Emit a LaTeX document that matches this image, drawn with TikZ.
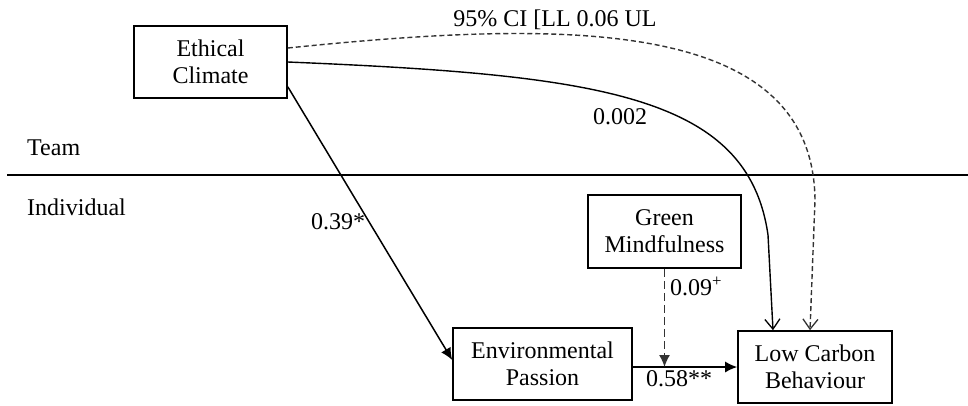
\documentclass[tikz,border=0pt]{standalone}
\usepackage{fontspec}
\setmainfont{Liberation Serif}
\usetikzlibrary{arrows.meta,calc}
\begin{document}
\begin{tikzpicture}[x=1pt,y=-1pt,
  every node/.style={font=\fontsize{24}{27}\selectfont, inner sep=0pt},
  var/.style={draw, line width=1.6pt, align=center},
  solidarr/.style={line width=1.5pt, -{Latex[length=12pt,width=11pt]}},
  openarr/.style={line width=1.4pt, -{Straight Barb[length=10pt,width=15pt,line width=1.3pt]}},
  dashcurve/.style={line width=1.4pt, dash pattern=on 5pt off 3pt, draw=black!80}]
\useasboundingbox (0,0) rectangle (968,405);
% boxes
\node[var, minimum width=153pt, minimum height=72pt] (EC) at (210.5,62) {Ethical\\Climate};
\node[var, minimum width=153pt, minimum height=73pt] (GM) at (664.5,231.5) {Green\\Mindfulness};
\node[var, minimum width=179pt, minimum height=72pt] (EP) at (542.5,364) {Environmental\\Passion};
\node[var, minimum width=154pt, minimum height=72pt] (LCB) at (815,367) {Low Carbon\\Behaviour};
% level labels and divider
\node[anchor=base west] (team) at (27,155) {Team};
\node[anchor=base west] (indiv) at (27,215) {Individual};
\coordinate (divL) at (7,175);
\coordinate (divR) at (968,175);
\draw[line width=2.6pt] (divL) -- (divR);
% connectors
\coordinate (ecA) at ($(EC.south east)+(0,-12)$);
\coordinate (epA) at ($(EP.west)+(0,-4)$);
\draw[solidarr] (ecA) -- (epA);
\coordinate (ecS) at (EC.east);
\coordinate (lcbS) at ($(LCB.north)+(-42,0)$);
\draw[openarr] (ecS) .. controls (600,75) and (748,95) .. (768,235) -- (lcbS);
\coordinate (ecD) at ($(EC.east)+(0,-14)$);
\coordinate (lcbD) at ($(LCB.north)+(-5,0)$);
\draw[dashcurve, -{Straight Barb[length=10pt,width=15pt,line width=1.3pt]}] (ecD) .. controls (560,20) and (813,15) .. (815,200) -- (lcbD);
\coordinate (epE) at (EP.east |- LCB.west);
\draw[solidarr] (epE) -- (LCB.west);
\coordinate (mod) at (GM.south |- LCB.west);
\draw[line width=1.4pt, dash pattern=on 8pt off 4pt, draw=black!80, -{Latex[length=12pt,width=11pt]}] (GM.south) -- (mod);
% labels
\node (ci) at (555,20) {95\% CI [LL 0.06 UL};
\node (l002) at (620,117) {0.002};
\node (l039) at (338,222) {0.39*};
\node[anchor=west] (l009) at (670,286) {0.09\textsuperscript{+}};
\node (l058) at (679,379) {0.58**};
\end{tikzpicture}
\end{document}
